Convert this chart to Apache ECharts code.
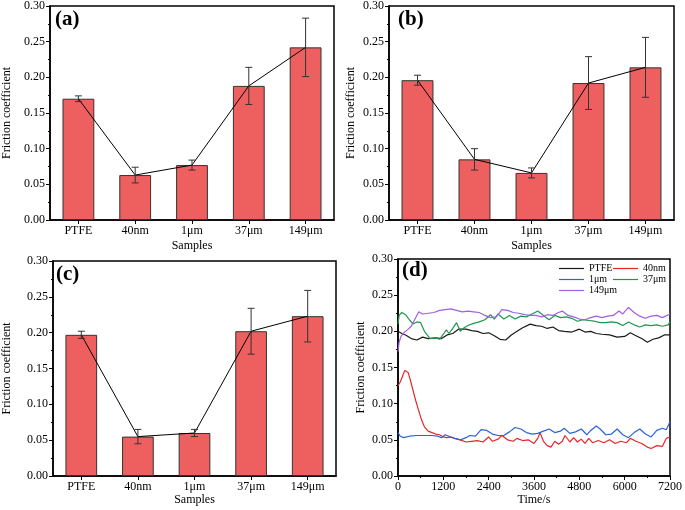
<!DOCTYPE html>
<html><head><meta charset="utf-8">
<script src="https://cdn.jsdelivr.net/npm/echarts@6/dist/echarts.min.js"></script>
<style>html,body{margin:0;padding:0;background:#fff}#c{width:685px;height:510px}</style>
</head><body><div id="c"></div>
<script>
const categories = ['PTFE','40nm','1\u03bcm','37\u03bcm','149\u03bcm'];
const valsA = [0.170,0.063,0.077,0.188,0.242];
const errA  = [0.004,0.011,0.007,0.026,0.041];
const valsB = [0.196,0.085,0.066,0.192,0.214];
const errB  = [0.007,0.015,0.007,0.037,0.042];
const valsC = [0.197,0.055,0.060,0.202,0.223];
const errC  = [0.005,0.010,0.005,0.032,0.036];
const yTicks = [0,0.05,0.10,0.15,0.20,0.25,0.30];
const timeTicks = [0,1200,2400,3600,4800,6000,7200];

const ptfe = [[0,0.200],[100,0.197],[200,0.195],[350,0.190],[500,0.188],[650,0.192],[800,0.190],[1000,0.191],[1150,0.190],[1300,0.195],[1450,0.197],[1600,0.203],[1800,0.203],[1950,0.201],[2100,0.200],[2250,0.197],[2400,0.198],[2550,0.194],[2700,0.189],[2850,0.188],[3000,0.195],[3150,0.200],[3300,0.205],[3500,0.210],[3650,0.208],[3800,0.207],[3950,0.204],[4100,0.206],[4250,0.201],[4400,0.200],[4600,0.199],[4800,0.203],[4950,0.199],[5100,0.200],[5250,0.197],[5400,0.196],[5600,0.195],[5800,0.192],[6000,0.193],[6150,0.198],[6300,0.194],[6450,0.190],[6600,0.185],[6750,0.189],[6900,0.191],[7050,0.195],[7200,0.195]];
const nm40 = [[0,0.125],[60,0.130],[120,0.138],[180,0.146],[220,0.148],[270,0.143],[330,0.132],[400,0.118],[470,0.104],[550,0.090],[620,0.078],[700,0.068],[800,0.062],[900,0.060],[1000,0.058],[1100,0.057],[1200,0.054],[1300,0.053],[1400,0.054],[1500,0.052],[1650,0.050],[1800,0.047],[1950,0.048],[2100,0.049],[2250,0.047],[2400,0.054],[2500,0.048],[2650,0.051],[2750,0.056],[2900,0.050],[3050,0.048],[3150,0.052],[3300,0.049],[3450,0.050],[3600,0.045],[3700,0.052],[3760,0.060],[3850,0.048],[3950,0.042],[4050,0.040],[4150,0.048],[4250,0.044],[4350,0.048],[4420,0.056],[4550,0.047],[4650,0.053],[4750,0.047],[4850,0.051],[4950,0.045],[5050,0.052],[5150,0.046],[5300,0.049],[5450,0.046],[5600,0.050],[5750,0.045],[5900,0.048],[6050,0.046],[6150,0.052],[6300,0.048],[6450,0.045],[6600,0.040],[6700,0.038],[6850,0.042],[7000,0.041],[7100,0.052],[7200,0.054]];
const um1 = [[0,0.060],[60,0.055],[150,0.053],[300,0.055],[500,0.056],[700,0.056],[900,0.056],[1050,0.055],[1150,0.053],[1250,0.057],[1350,0.055],[1500,0.052],[1650,0.050],[1800,0.053],[1900,0.056],[2050,0.055],[2200,0.064],[2350,0.063],[2500,0.058],[2650,0.056],[2800,0.056],[2950,0.061],[3100,0.067],[3250,0.065],[3400,0.060],[3550,0.058],[3700,0.059],[3850,0.062],[4000,0.065],[4150,0.060],[4300,0.062],[4400,0.066],[4550,0.059],[4700,0.061],[4850,0.065],[5000,0.057],[5100,0.063],[5250,0.069],[5350,0.065],[5500,0.057],[5650,0.058],[5800,0.065],[5950,0.057],[6100,0.053],[6250,0.060],[6400,0.065],[6550,0.058],[6700,0.054],[6850,0.063],[7000,0.066],[7100,0.064],[7200,0.075]];
const um37 = [[0,0.210],[30,0.222],[100,0.226],[200,0.223],[300,0.216],[400,0.210],[500,0.213],[600,0.212],[700,0.200],[850,0.190],[1000,0.191],[1100,0.189],[1200,0.196],[1280,0.202],[1350,0.197],[1450,0.204],[1550,0.212],[1650,0.200],[1750,0.205],[1850,0.208],[2000,0.211],[2150,0.213],[2300,0.216],[2450,0.223],[2550,0.217],[2650,0.224],[2800,0.217],[2950,0.222],[3100,0.217],[3250,0.221],[3400,0.220],[3550,0.224],[3700,0.228],[3850,0.222],[4000,0.216],[4150,0.222],[4300,0.219],[4450,0.220],[4600,0.218],[4750,0.214],[4900,0.216],[5050,0.215],[5200,0.214],[5350,0.212],[5500,0.212],[5650,0.213],[5800,0.212],[5950,0.208],[6100,0.213],[6250,0.209],[6400,0.206],[6550,0.209],[6700,0.208],[6850,0.209],[7000,0.207],[7150,0.209],[7200,0.213]];
const um149 = [[0,0.172],[30,0.185],[80,0.193],[150,0.198],[250,0.202],[350,0.207],[450,0.217],[550,0.227],[650,0.224],[800,0.225],[950,0.226],[1100,0.229],[1250,0.230],[1400,0.231],[1550,0.229],[1700,0.227],[1850,0.228],[2000,0.227],[2150,0.226],[2300,0.222],[2450,0.219],[2600,0.220],[2750,0.230],[2900,0.229],[3050,0.226],[3200,0.225],[3350,0.223],[3500,0.222],[3650,0.222],[3800,0.220],[3950,0.223],[4100,0.222],[4250,0.226],[4350,0.228],[4500,0.222],[4650,0.220],[4800,0.217],[4950,0.216],[5100,0.219],[5250,0.221],[5400,0.219],[5550,0.221],[5700,0.222],[5850,0.228],[5950,0.224],[6100,0.233],[6250,0.226],[6400,0.221],[6550,0.218],[6700,0.221],[6850,0.222],[7000,0.219],[7200,0.224]];

const FONT = 'Liberation Serif';
const chart = echarts.init(document.getElementById('c'), null, {renderer:'canvas'});

const grids = [
  {left:49, top:6, width:285, height:214},
  {left:389, top:6, width:285, height:214},
  {left:52, top:261, width:284, height:215},
  {left:398, top:259, width:274, height:217}
].map(g => Object.assign({show:true, borderColor:'#000', borderWidth:1.5, backgroundColor:'transparent'}, g));

const nameGapsY = [37, 32, 40, 31];
const nameGapsX = [20, 20, 17, 15];

function yAxis(i){
  return {
    type:'value', gridIndex:i, min:yTicks[0], max:yTicks[yTicks.length-1], interval:0.05,
    name:'Friction coefficient', nameLocation:'middle', nameGap:nameGapsY[i],
    nameTextStyle:{fontFamily:FONT, fontSize:12, color:'#000'},
    axisLine:{show:true, lineStyle:{color:'#000', width:1.5}},
    axisTick:{show:true, length:4, lineStyle:{color:'#000', width:1}},
    minorTick:{show:true, splitNumber:2, length:2, lineStyle:{color:'#000', width:1}},
    splitLine:{show:false},
    axisLabel:{fontFamily:FONT, fontSize:12, color:'#000', margin:5, formatter:v=>v.toFixed(2)}
  };
}
function xCat(i){
  return {
    type:'category', gridIndex:i, data:categories, boundaryGap:true,
    name:'Samples', nameLocation:'middle', nameGap:nameGapsX[i],
    nameTextStyle:{fontFamily:FONT, fontSize:12, color:'#000'},
    axisLine:{show:true, lineStyle:{color:'#000', width:1.5}},
    axisTick:{show:true, alignWithLabel:true, length:4, lineStyle:{color:'#000'}},
    axisLabel:{fontFamily:FONT, fontSize:12, color:'#000', margin:5, interval:0}
  };
}
const xTime = {
  type:'value', gridIndex:3, min:timeTicks[0], max:timeTicks[timeTicks.length-1], interval:1200,
  name:'Time/s', nameLocation:'middle', nameGap:nameGapsX[3],
  nameTextStyle:{fontFamily:FONT, fontSize:12, color:'#000'},
  axisLine:{show:true, lineStyle:{color:'#000', width:1.5}},
  axisTick:{show:true, length:4, lineStyle:{color:'#000'}},
  minorTick:{show:true, splitNumber:2, length:2, lineStyle:{color:'#000'}},
  splitLine:{show:false},
  axisLabel:{fontFamily:FONT, fontSize:12, color:'#000', margin:5, formatter:v=>String(v)}
};

function errRender(params, api){
  const x = api.value(0), y = api.value(1), e = api.value(2);
  const t = api.coord([x, y+e]), b = api.coord([x, y-e]);
  const hw = 3.5, st = {stroke:'#333', lineWidth:1};
  return {type:'group', children:[
    {type:'line', shape:{x1:t[0], y1:t[1], x2:b[0], y2:b[1]}, style:st},
    {type:'line', shape:{x1:t[0]-hw, y1:t[1], x2:t[0]+hw, y2:t[1]}, style:st},
    {type:'line', shape:{x1:b[0]-hw, y1:b[1], x2:b[0]+hw, y2:b[1]}, style:st}
  ]};
}

const barSets = [[valsA,errA],[valsB,errB],[valsC,errC]];
const series = [];
barSets.forEach(([v,e],i)=>{
  series.push({type:'bar', name:'bar'+i, xAxisIndex:i, yAxisIndex:i, data:v, barWidth:'56%',
    itemStyle:{color:'#EE6060', borderColor:'#333', borderWidth:1}, silent:true, z:2});
  series.push({type:'line', name:'line'+i, xAxisIndex:i, yAxisIndex:i, data:v, symbol:'none',
    lineStyle:{color:'#000', width:1}, z:4, silent:true});
  series.push({type:'custom', name:'err'+i, xAxisIndex:i, yAxisIndex:i, renderItem:errRender,
    data:v.map((val,k)=>[k,val,e[k]]), z:5, silent:true});
});
const lines = [
  ['PTFE', ptfe, '#1a1a1a'],
  ['40nm', nm40, '#E8262A'],
  ['1\u03bcm', um1, '#2B62D9'],
  ['37\u03bcm', um37, '#1F9650'],
  ['149\u03bcm', um149, '#A05FE0']
];
lines.forEach(([n,d,c])=>{
  series.push({type:'line', name:n, xAxisIndex:3, yAxisIndex:3, data:d, symbol:'none', showSymbol:false,
    color:c, lineStyle:{color:c, width:1.2}, itemStyle:{color:c}, silent:true});
});

const labels = [['(a)',55,9],['(b)',398,9],['(c)',56,264],['(d)',402,260]];

chart.setOption({
  animation:false,
  backgroundColor:'#fff',
  title: labels.map(([t,l,tp])=>({text:t, left:l, top:tp, padding:0,
    textStyle:{fontFamily:FONT, fontWeight:'bold', fontSize:21, color:'#000'}})),
  legend:{
    data:lines.map(l=>l[0]), left:559, top:263, width:116, itemGap:0, itemWidth:25, itemHeight:1.2,
    icon:'rect', padding:0,
    textStyle:{fontFamily:FONT, fontSize:10, color:'#000', width:24, lineHeight:11, padding:0},
    selectedMode:false
  },
  grid:grids,
  xAxis:[xCat(0), xCat(1), xCat(2), xTime],
  yAxis:[yAxis(0), yAxis(1), yAxis(2), yAxis(3)],
  series:series
});
</script></body></html>
